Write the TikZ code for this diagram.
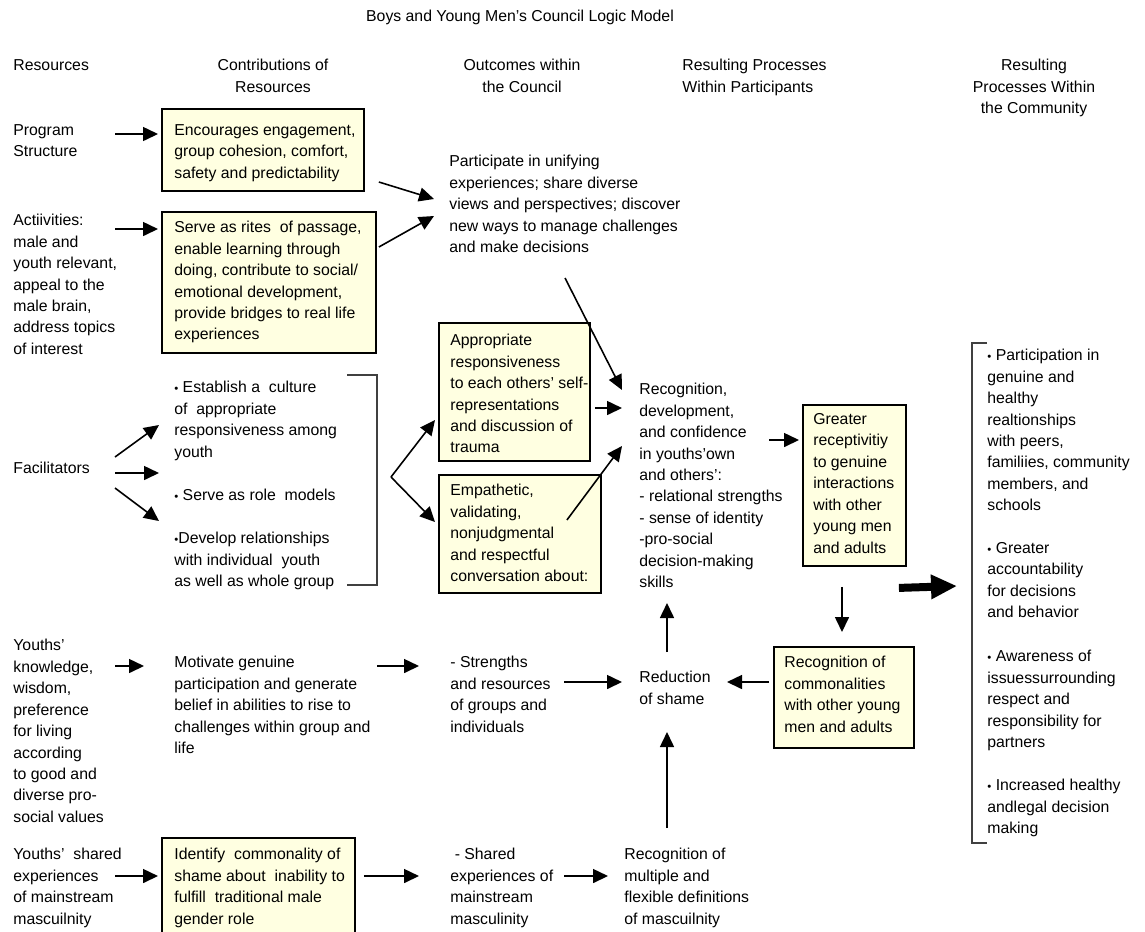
\documentclass[tikz,border=0pt]{standalone}
\usepackage{fontspec}
\setmainfont{Liberation Sans}
\usetikzlibrary{arrows.meta}

\definecolor{boxfill}{RGB}{255,255,225}
\newcommand{\bul}{{\fontsize{6.5}{6.5}\selectfont •}}

\begin{document}
\begin{tikzpicture}[x=0.02cm, y=-0.02cm,
    lbl/.style={anchor=north west, inner sep=0pt, align=left, font=\fontsize{9}{12.2}\selectfont},
    resbox/.style={draw, line width=1.1pt, fill=boxfill, anchor=north west, inner sep=0pt},
    arr/.style={-{Triangle[length=0.3cm,width=0.28cm]}, line width=0.9pt},
    bigarr/.style={-{Triangle[length=0.52cm,width=0.46cm]}, line width=0.16cm},
    brk/.style={line width=0.8pt, black!75}]

  \fill[white] (0,0) rectangle (1145,931);
  \useasboundingbox (0,0) rectangle (1145,931);

  % headings
  \node[lbl, anchor=center] (title) at (520,17) {Boys and Young Men's Council Logic Model};
  \node[lbl] (hres) at (13,59) {Resources};
  \node[lbl, anchor=north, align=center] (hcon) at (273,59) {Contributions of\\Resources};
  \node[lbl, anchor=north, align=center] (hout) at (522,59) {Outcomes within\\the Council};
  \node[lbl] (hpar) at (682,59) {Resulting Processes\\Within Participants};
  \node[lbl, anchor=north, align=center] (hcom) at (1034,59) {Resulting\\Processes Within\\the Community};

  % resources
  \node[lbl] (prog) at (13,124) {Program\\Structure};
  \node[lbl] (act) at (13,214) {Actiivities:\\male and\\youth relevant,\\appeal to the\\male brain,\\address topics\\of interest};
  \node[lbl] (fac) at (13,462) {Facilitators};
  \node[lbl] (know) at (13,639) {Youths'\\knowledge,\\wisdom,\\preference\\for living\\according\\to good and\\diverse pro-\\social values};
  \node[lbl] (shared) at (13,848) {Youths'\ \ shared\\experiences\\of mainstream\\mascuilnity};

  % contributions
  \node[resbox, minimum width=4.04cm, minimum height=1.64cm] (box1) at (161,108) {};
  \node[lbl] (box1txt) at ([shift={(13,16)}]box1.north west) {Encourages engagement,\\group cohesion, comfort,\\safety and predictability};
  \node[resbox, minimum width=4.28cm, minimum height=2.82cm] (box2) at (161,211) {};
  \node[lbl] (box2txt) at ([shift={(13,10)}]box2.north west) {Serve as rites\ \ of passage,\\enable learning through\\doing, contribute to social/\\emotional development,\\provide bridges to real life\\experiences};
  \node[lbl] (fac1) at (174,381) {\bul\ Establish a\ \ culture\\of\ \ appropriate\\responsiveness among\\youth};
  \node[lbl] (fac2) at (174,489) {\bul\ Serve as role\ \ models};
  \node[lbl] (fac3) at (174,532) {\bul Develop relationships\\with individual\ \ youth\\as well as whole group};
  \node[lbl] (motiv) at (174,656) {Motivate genuine\\participation and generate\\belief in abilities to rise to\\challenges within group and\\life};
  \node[resbox, minimum width=3.86cm, minimum height=2.2cm] (box5) at (161,837) {};
  \node[lbl] (box5txt) at ([shift={(13,11)}]box5.north west) {Identify\ \ commonality of\\shame about\ \ inability to\\fulfill\ \ traditional male\\gender role};

  % outcomes within the council
  \node[lbl] (part) at (449,155) {Participate in unifying\\experiences; share diverse\\views and perspectives; discover\\new ways to manage challenges\\and make decisions};
  \node[resbox, minimum width=3.02cm, minimum height=2.76cm] (box3) at (438,322) {};
  \node[lbl] (box3txt) at ([shift={(12,12)}]box3.north west) {Appropriate\\responsiveness\\to each others' self-\\representations\\and discussion of\\trauma};
  \node[resbox, minimum width=3.24cm, minimum height=2.36cm] (box4) at (438,474) {};
  \node[lbl] (box4txt) at ([shift={(12,10)}]box4.north west) {Empathetic,\\validating,\\nonjudgmental\\and respectful\\conversation about:};
  \node[lbl] (stren) at (450,656) {- Strengths\\and resources\\of groups and\\individuals};
  \node[lbl] (shexp) at (450,848) {\ - Shared\\experiences of\\mainstream\\masculinity};

  % processes within participants
  \node[lbl] (recog) at (639,383) {Recognition,\\development,\\and confidence\\in youths'own\\and others':\\- relational strengths\\- sense of identity\\-pro-social\\decision-making\\skills};
  \node[resbox, minimum width=2.06cm, minimum height=3.22cm] (greater) at (802,404) {};
  \node[lbl] (greatertxt) at ([shift={(11,9)}]greater.north west) {Greater\\receptivitiy\\to genuine\\interactions\\with other\\young men\\and adults};
  \node[resbox, minimum width=2.8cm, minimum height=2.02cm] (common) at (773,646) {};
  \node[lbl] (commontxt) at ([shift={(11,10)}]common.north west) {Recognition of\\commonalities\\with other young\\men and adults};
  \node[lbl] (reduce) at (639,671) {Reduction\\of shame};
  \node[lbl] (multi) at (624,848) {Recognition of\\multiple and\\flexible definitions\\of mascuilnity};

  % processes within the community
  \node[lbl] (comm1) at (987,349) {\bul\ Participation in\\genuine and\\healthy\\realtionships\\with peers,\\familiies, community\\members, and\\schools};
  \node[lbl] (comm2) at (987,542) {\bul\ Greater\\accountability\\for decisions\\and behavior};
  \node[lbl] (comm3) at (987,650) {\bul\ Awareness of\\issuessurrounding\\respect and\\responsibility for\\partners};
  \node[lbl] (comm4) at (987,779) {\bul\ Increased healthy\\andlegal decision\\making};

  % brackets
  \draw[brk] ([shift={(173,-6)}]fac1.north west) -| ([shift={(203,53)}]fac3.north west) -- ++(-30,0);
  \draw[brk] ([shift={(0,-6)}]comm1.north west) -| ([shift={(-15,494)}]comm1.north west) -- ++(15,0);

  % arrows
  \draw[arr] ([shift={(102,10)}]prog.north west) -- ([shift={(-3,26)}]box1.north west);
  \draw[arr] ([shift={(102,15)}]act.north west) -- ([shift={(-3,18)}]box2.north west);
  \draw[arr] ([shift={(14,74)}]box1.north east) -- ([shift={(-15,44)}]part.north west);
  \draw[arr] ([shift={(2,36)}]box2.north east) -- ([shift={(-15,61)}]part.north west);
  \draw[arr] ([shift={(116,123)}]part.north west) -- ([shift={(-17,7)}]recog.north west);

  \draw[arr] ([shift={(102,-5)}]fac.north west) -- ([shift={(-15,44)}]fac1.north west);
  \draw[arr] ([shift={(102,11)}]fac.north west) -- ([shift={(-15,-16)}]fac2.north west);
  \draw[arr] ([shift={(102,26)}]fac.north west) -- ([shift={(-15,-11)}]fac3.north west);

  \coordinate (fork) at ([shift={(-47,155)}]box3.north west);
  \draw[arr] (fork) -- ([shift={(-3,98)}]box3.north west);
  \draw[arr] (fork) -- ([shift={(-3,48)}]box4.north west);
  \draw[arr] ([shift={(4,86)}]box3.north east) -- ([shift={(-17,25)}]recog.north west);
  \draw[arr] ([shift={(-35,46)}]box4.north east) -- ([shift={(-17,63)}]recog.north west);

  \draw[arr] ([shift={(-33,36)}]greater.north west) -- ([shift={(-3,36)}]greater.north west);
  \draw[arr] ([shift={(40,20)}]greater.south west) -- ([shift={(69,-14)}]common.north west);
  \draw[arr] ([shift={(-4,36)}]common.north west) -- ([shift={(88,11)}]reduce.north west);
  \draw[arr] ([shift={(114,26)}]stren.north west) -- ([shift={(-17,11)}]reduce.north west);
  \draw[arr] ([shift={(28,-19)}]reduce.north west) -- ([shift={(28,220)}]recog.north west);
  \draw[arr] ([shift={(43,-20)}]multi.north west) -- ([shift={(28,61)}]reduce.north west);

  \draw[arr] ([shift={(102,27)}]know.north west) -- ([shift={(-30,10)}]motiv.north west);
  \draw[arr] ([shift={(203,10)}]motiv.north west) -- ([shift={(-31,10)}]stren.north west);
  \draw[arr] ([shift={(102,28)}]shared.north west) -- ([shift={(-3,39)}]box5.north west);
  \draw[arr] ([shift={(8,39)}]box5.north east) -- ([shift={(-31,28)}]shexp.north west);
  \draw[arr] ([shift={(114,28)}]shexp.north west) -- ([shift={(-16,28)}]multi.north west);

  \draw[bigarr] ([shift={(-8,21)}]greater.south east) -- ([shift={(-30,237)}]comm1.north west);
\end{tikzpicture}
\end{document}
